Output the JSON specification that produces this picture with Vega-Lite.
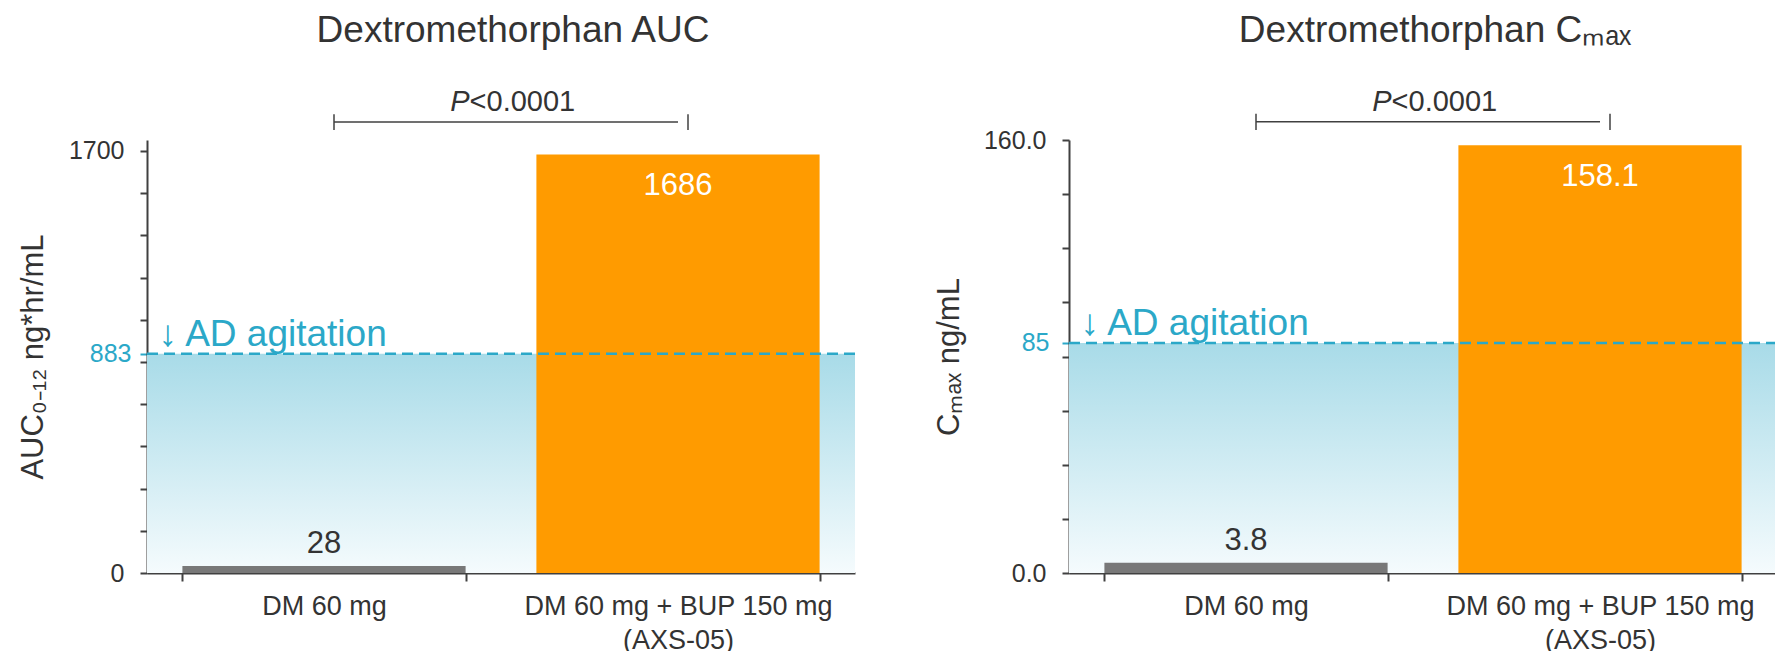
{
  "$schema": "https://vega.github.io/schema/vega-lite/v6.json",
  "background": "white",
  "padding": {"left": 17, "top": 11, "right": 0, "bottom": 0},
  "bounds": "flush",
  "spacing": 214,
  "config": {
    "view": {"stroke": null},
    "font": "Liberation Sans",
    "axis": {
      "domainColor": "#404040", "domainWidth": 2, "tickColor": "#404040", "tickWidth": 2,
      "labelFont": "Liberation Sans", "titleFont": "Liberation Sans",
      "labelColor": "#333333", "titleColor": "#333333", "titleFontWeight": "normal", "grid": false,
      "labelFlush": false, "labelBound": false
    },
    "title": {"font": "Liberation Sans", "fontSize": 37, "fontWeight": "normal", "color": "#333333", "frame": "group", "anchor": "middle", "offset": 38}
  },
  "datasets": {
    "auc": [
      {"group": "DM 60 mg", "value": 28},
      {"group": "DM 60 mg + BUP 150 mg (AXS-05)", "value": 1686}
    ],
    "auc_threshold": [{"group": "DM 60 mg", "threshold": 883, "label": "↓ AD agitation"}],
    "auc_bracket": [{"from": "DM 60 mg", "to": "DM 60 mg + BUP 150 mg (AXS-05)", "y": 1816, "ytext": 1899, "p": "P", "rest": "<0.0001"}],
    "auc_ends": [
      {"at": "DM 60 mg", "lo": 1784, "hi": 1848},
      {"at": "DM 60 mg + BUP 150 mg (AXS-05)", "lo": 1784, "hi": 1848}
    ],
    "cmax": [
      {"group": "DM 60 mg", "value": 3.8},
      {"group": "DM 60 mg + BUP 150 mg (AXS-05)", "value": 158.1}
    ],
    "cmax_threshold": [{"group": "DM 60 mg", "threshold": 85, "label": "↓ AD agitation"}],
    "cmax_bracket": [{"from": "DM 60 mg", "to": "DM 60 mg + BUP 150 mg (AXS-05)", "y": 166.7, "ytext": 174.2, "p": "P", "rest": "<0.0001"}],
    "cmax_ends": [
      {"at": "DM 60 mg", "lo": 163.7, "hi": 169.7},
      {"at": "DM 60 mg + BUP 150 mg (AXS-05)", "lo": 163.7, "hi": 169.7}
    ]
  },
  "hconcat": [
    {
      "width": 708, "height": 433,
      "title": {"text": "Dextromethorphan AUC", "dx": 12},
      "layer": [
        {
          "data": {"name": "auc_threshold"},
          "mark": {"type": "rect", "color": {"gradient": "linear", "x1": 0, "y1": 0, "x2": 0, "y2": 1, "stops": [{"offset": 0, "color": "#a8dbe8"}, {"offset": 1, "color": "#f5fbfd"}]}},
          "encoding": {
            "y": {"field": "threshold", "type": "quantitative", "scale": {"domain": [0, 1744], "nice": false},
              "axis": {"title": "AUC₀₋₁₂ ng*hr/mL", "titleFontSize": 31, "titlePadding": 19, "labelFontSize": 25, "tickSize": 7, "labelOverlap": false, "tickCount": 40,
                "values": [0, 170, 340, 510, 680, 850, 883, 1020, 1190, 1360, 1530, 1700],
                "labelExpr": "datum.value == 0 ? '0' : datum.value == 883 ? '883' : datum.value == 1700 ? '1700' : ''",
                "labelPadding": {"condition": {"test": "datum.value == 883", "value": 9}, "value": 16},
                "labelColor": {"condition": {"test": "datum.value == 883", "value": "#2ba8c8"}, "value": "#333333"},
                "tickColor": {"condition": {"test": "datum.value == 883", "value": "#2ba8c8"}, "value": "#404040"}}},
            "y2": {"datum": 0}
          }
        },
        {
          "data": {"name": "auc"},
          "mark": {"type": "bar"},
          "encoding": {
            "x": {"field": "group", "type": "nominal", "sort": null, "scale": {"paddingInner": 0.2, "paddingOuter": 0.1},
              "axis": {"title": null, "labelAngle": 0, "tickBand": "extent", "labelFontSize": 27, "labelPadding": 12, "tickSize": 8, "labelLimit": 0, "labelLineHeight": 34,
                "labelExpr": "indexof(datum.label, ' (') > 0 ? [substring(datum.label, 0, indexof(datum.label, ' (')), substring(datum.label, indexof(datum.label, ' (') + 1)] : datum.label"}},
            "y": {"field": "value", "type": "quantitative", "scale": {"domain": [0, 1744], "nice": false}},
            "color": {"field": "group", "type": "nominal", "scale": {"domain": ["DM 60 mg", "DM 60 mg + BUP 150 mg (AXS-05)"], "range": ["#787878", "#ff9b00"]}, "legend": null}
          }
        },
        {
          "data": {"name": "auc_threshold"},
          "mark": {"type": "rule", "color": "#2ba8c8", "strokeWidth": 2.5, "strokeDash": [11, 6]},
          "encoding": {"y": {"field": "threshold", "type": "quantitative", "scale": {"domain": [0, 1744], "nice": false}}}
        },
        {
          "data": {"name": "auc_threshold"},
          "mark": {"type": "text", "color": "#2ba8c8", "fontSize": 37, "align": "left", "baseline": "alphabetic", "dx": -24, "dy": -8},
          "encoding": {
            "x": {"field": "group", "type": "nominal", "bandPosition": 0},
            "y": {"field": "threshold", "type": "quantitative", "scale": {"domain": [0, 1744], "nice": false}},
            "text": {"field": "label"}
          }
        },
        {
          "data": {"name": "auc"},
          "transform": [{"filter": {"field": "group", "equal": "DM 60 mg"}}],
          "mark": {"type": "text", "color": "#333333", "fontSize": 31, "baseline": "bottom", "dy": -6},
          "encoding": {
            "x": {"field": "group", "type": "nominal"},
            "y": {"field": "value", "type": "quantitative", "scale": {"domain": [0, 1744], "nice": false}},
            "text": {"field": "value", "type": "quantitative", "format": "d"}
          }
        },
        {
          "data": {"name": "auc"},
          "transform": [{"filter": {"field": "group", "equal": "DM 60 mg + BUP 150 mg (AXS-05)"}}],
          "mark": {"type": "text", "color": "white", "fontSize": 31, "baseline": "top", "dy": 17},
          "encoding": {
            "x": {"field": "group", "type": "nominal"},
            "y": {"field": "value", "type": "quantitative", "scale": {"domain": [0, 1744], "nice": false}},
            "text": {"field": "value", "type": "quantitative", "format": "d"}
          }
        },
        {
          "data": {"name": "auc_bracket"},
          "mark": {"type": "rule", "color": "#404040", "strokeWidth": 1.5, "xOffset": 10},
          "encoding": {
            "x": {"field": "from", "type": "nominal"},
            "x2": {"field": "to"},
            "y": {"field": "y", "type": "quantitative", "scale": {"domain": [0, 1744], "nice": false}}
          }
        },
        {
          "data": {"name": "auc_ends"},
          "mark": {"type": "rule", "color": "#404040", "strokeWidth": 1.5, "xOffset": 10},
          "encoding": {
            "x": {"field": "at", "type": "nominal"},
            "y": {"field": "lo", "type": "quantitative", "scale": {"domain": [0, 1744], "nice": false}},
            "y2": {"field": "hi"}
          }
        },
        {
          "data": {"name": "auc_bracket"},
          "mark": {"type": "text", "color": "#333333", "fontSize": 29, "fontStyle": "italic", "align": "right", "baseline": "middle", "dx": 4},
          "encoding": {
            "x": {"field": "from", "type": "nominal", "bandPosition": 1},
            "y": {"field": "ytext", "type": "quantitative", "scale": {"domain": [0, 1744], "nice": false}},
            "text": {"field": "p"}
          }
        },
        {
          "data": {"name": "auc_bracket"},
          "mark": {"type": "text", "color": "#333333", "fontSize": 29, "align": "left", "baseline": "middle", "dx": 4},
          "encoding": {
            "x": {"field": "from", "type": "nominal", "bandPosition": 1},
            "y": {"field": "ytext", "type": "quantitative", "scale": {"domain": [0, 1744], "nice": false}},
            "text": {"field": "rest"}
          }
        }
      ]
    },
    {
      "width": 708, "height": 433,
      "title": {"text": "Dextromethorphan Cₘₐₓ", "dx": 12},
      "layer": [
        {
          "data": {"name": "cmax_threshold"},
          "mark": {"type": "rect", "color": {"gradient": "linear", "x1": 0, "y1": 0, "x2": 0, "y2": 1, "stops": [{"offset": 0, "color": "#a8dbe8"}, {"offset": 1, "color": "#f5fbfd"}]}},
          "encoding": {
            "y": {"field": "threshold", "type": "quantitative", "scale": {"domain": [0, 160], "nice": false},
              "axis": {"title": "Cₘₐₓ ng/mL", "titleFontSize": 31, "titlePadding": 18, "labelFontSize": 25, "tickSize": 7, "labelOverlap": false, "tickCount": 40,
                "values": [0, 20, 40, 60, 80, 85, 100, 120, 140, 160],
                "labelExpr": "datum.value == 0 ? '0.0' : datum.value == 160 ? '160.0' : datum.value == 85 ? '85' : ''",
                "labelPadding": {"condition": {"test": "datum.value == 85", "value": 13}, "value": 16},
                "labelColor": {"condition": {"test": "datum.value == 85", "value": "#2ba8c8"}, "value": "#333333"},
                "tickColor": {"condition": {"test": "datum.value == 85", "value": "#2ba8c8"}, "value": "#404040"}}},
            "y2": {"datum": 0}
          }
        },
        {
          "data": {"name": "cmax"},
          "mark": {"type": "bar"},
          "encoding": {
            "x": {"field": "group", "type": "nominal", "sort": null, "scale": {"paddingInner": 0.2, "paddingOuter": 0.1},
              "axis": {"title": null, "labelAngle": 0, "tickBand": "extent", "labelFontSize": 27, "labelPadding": 12, "tickSize": 8, "labelLimit": 0, "labelLineHeight": 34,
                "labelExpr": "indexof(datum.label, ' (') > 0 ? [substring(datum.label, 0, indexof(datum.label, ' (')), substring(datum.label, indexof(datum.label, ' (') + 1)] : datum.label"}},
            "y": {"field": "value", "type": "quantitative", "scale": {"domain": [0, 160], "nice": false}},
            "color": {"field": "group", "type": "nominal", "scale": {"domain": ["DM 60 mg", "DM 60 mg + BUP 150 mg (AXS-05)"], "range": ["#787878", "#ff9b00"]}, "legend": null}
          }
        },
        {
          "data": {"name": "cmax_threshold"},
          "mark": {"type": "rule", "color": "#2ba8c8", "strokeWidth": 2.5, "strokeDash": [11, 6]},
          "encoding": {"y": {"field": "threshold", "type": "quantitative", "scale": {"domain": [0, 160], "nice": false}}}
        },
        {
          "data": {"name": "cmax_threshold"},
          "mark": {"type": "text", "color": "#2ba8c8", "fontSize": 37, "align": "left", "baseline": "alphabetic", "dx": -24, "dy": -8},
          "encoding": {
            "x": {"field": "group", "type": "nominal", "bandPosition": 0},
            "y": {"field": "threshold", "type": "quantitative", "scale": {"domain": [0, 160], "nice": false}},
            "text": {"field": "label"}
          }
        },
        {
          "data": {"name": "cmax"},
          "transform": [{"filter": {"field": "group", "equal": "DM 60 mg"}}],
          "mark": {"type": "text", "color": "#333333", "fontSize": 31, "baseline": "bottom", "dy": -6},
          "encoding": {
            "x": {"field": "group", "type": "nominal"},
            "y": {"field": "value", "type": "quantitative", "scale": {"domain": [0, 160], "nice": false}},
            "text": {"field": "value", "type": "quantitative", "format": ".1f"}
          }
        },
        {
          "data": {"name": "cmax"},
          "transform": [{"filter": {"field": "group", "equal": "DM 60 mg + BUP 150 mg (AXS-05)"}}],
          "mark": {"type": "text", "color": "white", "fontSize": 31, "baseline": "top", "dy": 17},
          "encoding": {
            "x": {"field": "group", "type": "nominal"},
            "y": {"field": "value", "type": "quantitative", "scale": {"domain": [0, 160], "nice": false}},
            "text": {"field": "value", "type": "quantitative", "format": ".1f"}
          }
        },
        {
          "data": {"name": "cmax_bracket"},
          "mark": {"type": "rule", "color": "#404040", "strokeWidth": 1.5, "xOffset": 10},
          "encoding": {
            "x": {"field": "from", "type": "nominal"},
            "x2": {"field": "to"},
            "y": {"field": "y", "type": "quantitative", "scale": {"domain": [0, 160], "nice": false}}
          }
        },
        {
          "data": {"name": "cmax_ends"},
          "mark": {"type": "rule", "color": "#404040", "strokeWidth": 1.5, "xOffset": 10},
          "encoding": {
            "x": {"field": "at", "type": "nominal"},
            "y": {"field": "lo", "type": "quantitative", "scale": {"domain": [0, 160], "nice": false}},
            "y2": {"field": "hi"}
          }
        },
        {
          "data": {"name": "cmax_bracket"},
          "mark": {"type": "text", "color": "#333333", "fontSize": 29, "fontStyle": "italic", "align": "right", "baseline": "middle", "dx": 4},
          "encoding": {
            "x": {"field": "from", "type": "nominal", "bandPosition": 1},
            "y": {"field": "ytext", "type": "quantitative", "scale": {"domain": [0, 160], "nice": false}},
            "text": {"field": "p"}
          }
        },
        {
          "data": {"name": "cmax_bracket"},
          "mark": {"type": "text", "color": "#333333", "fontSize": 29, "align": "left", "baseline": "middle", "dx": 4},
          "encoding": {
            "x": {"field": "from", "type": "nominal", "bandPosition": 1},
            "y": {"field": "ytext", "type": "quantitative", "scale": {"domain": [0, 160], "nice": false}},
            "text": {"field": "rest"}
          }
        }
      ]
    }
  ]
}
